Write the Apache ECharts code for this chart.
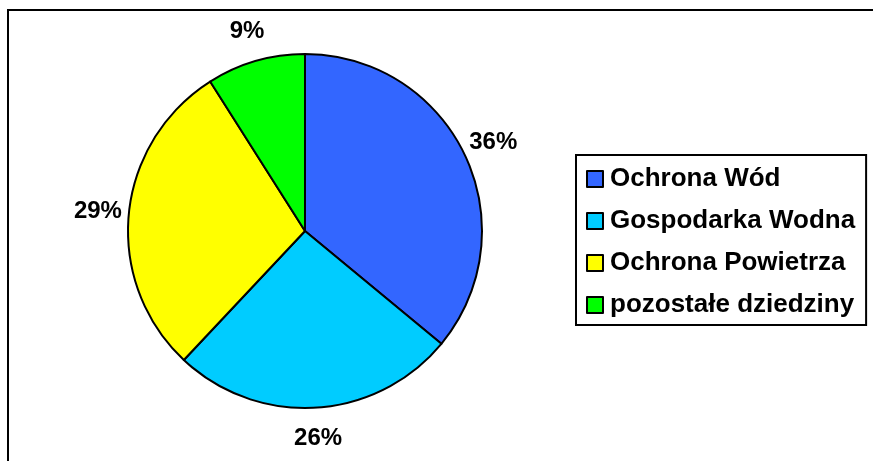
<!DOCTYPE html>
<html>
<head>
<meta charset="utf-8">
<script src="https://cdn.jsdelivr.net/npm/echarts@6/dist/echarts.min.js"></script>
<style>
  html, body { margin: 0; padding: 0; background: #fff; }
  #chart { width: 873px; height: 461px; }
</style>
</head>
<body>
<div id="chart"></div>
<script>
const categories = ["Ochrona Wód", "Gospodarka Wodna", "Ochrona Powietrza", "pozostałe dziedziny"];
const shares = [36, 26, 29, 9];
const sliceColors = ["#3366FF", "#00CCFF", "#FFFF00", "#00FF00"];

const font = "Arial, 'Liberation Sans', sans-serif";
const center = [305, 231];

const chart = echarts.init(document.getElementById("chart"));

const slices = categories.map((name, i) => ({
  name: name,
  value: shares[i],
  itemStyle: { color: sliceColors[i] }
}));

chart.setOption({
  animation: false,
  backgroundColor: "#fff",
  graphic: [
    {
      type: "rect",
      shape: { x: 8, y: 10, width: 900, height: 500 },
      style: { fill: "none", stroke: "#000", lineWidth: 2 },
      silent: true
    }
  ],
  legend: {
    orient: "vertical",
    left: 576,
    top: 155,
    padding: [10, 11, 6, 10],
    itemGap: 14,
    itemWidth: 16,
    itemHeight: 16,
    icon: "rect",
    backgroundColor: "#fff",
    borderColor: "#000",
    borderWidth: 2,
    borderRadius: 0,
    data: categories,
    itemStyle: { borderColor: "#000", borderWidth: 2 },
    textStyle: {
      fontFamily: font,
      fontWeight: "bold",
      fontSize: 26,
      lineHeight: 28,
      color: "#000",
      padding: [0, 0, 0, 2]
    }
  },
  series: [
    {
      type: "pie",
      center: center,
      radius: 177,
      startAngle: 90,
      clockwise: true,
      silent: true,
      label: { show: false },
      labelLine: { show: false },
      itemStyle: { borderColor: "#000", borderWidth: 2 },
      data: slices
    },
    {
      // invisible ring that only carries the percent labels
      type: "pie",
      center: center,
      radius: [177, 233],
      startAngle: 90,
      clockwise: true,
      silent: true,
      itemStyle: { color: "rgba(0,0,0,0)", borderWidth: 0 },
      label: {
        show: true,
        position: "inside",
        formatter: "{c}%",
        color: "#000",
        fontFamily: font,
        fontWeight: "bold",
        fontSize: 24
      },
      labelLine: { show: false },
      data: categories.map((name, i) => ({ name: name, value: shares[i] }))
    }
  ]
});
</script>
</body>
</html>
